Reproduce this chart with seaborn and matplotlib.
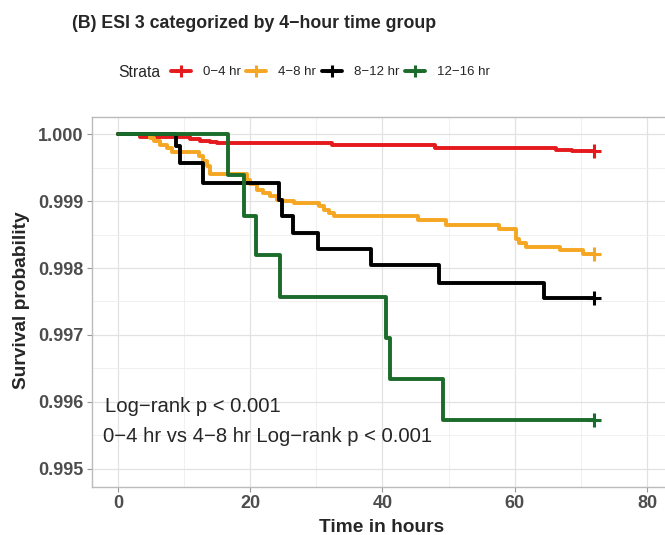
# Curvas de supervivencia Kaplan-Meier, ESI 3 por grupo de 4 horas

import numpy as np
import pandas as pd
import matplotlib.pyplot as plt
import seaborn as sns
from matplotlib.lines import Line2D
from matplotlib.ticker import MultipleLocator, FormatStrFormatter

strata = ['0−4 hr', '4−8 hr', '8−12 hr', '12−16 hr']
colors = ['#E41A1C', '#F5A623', '#000000', '#1B6B2B']

time_0_4 = [0, 3.3, 10.9, 12.4, 13.9, 15.0, 32.4, 47.9, 66.3, 68.7, 72]
surv_0_4 = [1.0, 0.99996, 0.99993, 0.99990, 0.99988, 0.99986, 0.99984,
            0.99979, 0.99976, 0.99974, 0.99974]

time_4_8 = [0, 4.8, 5.4, 6.4, 7.4, 8.1, 12.2, 12.9, 13.4, 13.9, 19.5, 20.0,
            21.0, 22.0, 23.0, 24.0, 25.0, 26.6, 30.4, 31.2, 31.9, 32.7, 45.3,
            49.6, 57.7, 60.2, 60.7, 61.7, 66.8, 70.3, 72]
surv_4_8 = [1.0, 0.99994, 0.99989, 0.99983, 0.99979, 0.99973, 0.99967,
            0.99959, 0.99952, 0.99940, 0.99932, 0.99925, 0.99917, 0.99912,
            0.99907, 0.99902, 0.99900, 0.99897, 0.99892, 0.99887, 0.99882,
            0.99877, 0.99871, 0.99864, 0.99858, 0.99844, 0.99837, 0.99832,
            0.99827, 0.99821, 0.99821]

time_8_12 = [0, 8.8, 9.4, 12.9, 24.4, 24.8, 26.4, 30.3, 38.3, 48.5, 64.4, 72]
surv_8_12 = [1.0, 0.99982, 0.99957, 0.99927, 0.99902, 0.99878, 0.99852,
             0.99828, 0.99804, 0.99778, 0.99755, 0.99755]

time_12_16 = [0, 16.7, 19.1, 20.8, 24.5, 40.5, 41.1, 49.1, 72]
surv_12_16 = [1.0, 0.99939, 0.99878, 0.99819, 0.99757, 0.99695, 0.99635,
              0.99573, 0.99573]

times = [time_0_4, time_4_8, time_8_12, time_12_16]
survs = [surv_0_4, surv_4_8, surv_8_12, surv_12_16]

df = pd.concat([pd.DataFrame({'time': t, 'surv': s, 'strata': g})
                for t, s, g in zip(times, survs, strata)], ignore_index=True)

sns.set_style('whitegrid')
plt.rcParams['font.family'] = ['Liberation Sans', 'DejaVu Sans']

W, H = 665, 535
fig = plt.figure(figsize=(W / 100, H / 100), dpi=100)
# el panel sigue más allá del borde derecho, como en la imagen original
ax = fig.add_axes([92 / W, 1 - 487 / H, (680 - 92) / W, (487 - 117) / H])

pal = dict(zip(strata, colors))
sns.lineplot(data=df, x='time', y='surv', hue='strata', hue_order=strata,
             palette=pal, drawstyle='steps-post', linewidth=2.8,
             estimator=None, legend=False, ax=ax)

# marcas de censura al final
for g in strata:
    sub = df[df['strata'] == g]
    ax.plot(sub['time'].iloc[-1], sub['surv'].iloc[-1], marker='+',
            markersize=10, mew=2.2, color=pal[g], linestyle='none')

ax.set_xlim(-3.93, 85.0)
ax.set_ylim(0.994731, 1.000254)
ax.set_xticks([0, 20, 40, 60, 80])
ax.set_yticks([0.995, 0.996, 0.997, 0.998, 0.999, 1.000])
ax.xaxis.set_minor_locator(MultipleLocator(10))
ax.yaxis.set_minor_locator(MultipleLocator(0.0005))
ax.yaxis.set_major_formatter(FormatStrFormatter('%.3f'))
ax.grid(which='major', color='#e2e2e2', linewidth=0.9)
ax.grid(which='minor', color='#eeeeee', linewidth=0.6)
ax.tick_params(which='major', length=3.6, width=0.8, color='#999999',
               labelcolor='#4d4d4d', labelsize=13, pad=2.5,
               left=True, bottom=True)
ax.tick_params(which='minor', length=0)
for lbl in ax.get_xticklabels() + ax.get_yticklabels():
    lbl.set_fontweight('bold')
for side in ['top', 'left', 'bottom']:
    ax.spines[side].set_color('#bbbbbb')
    ax.spines[side].set_linewidth(1.0)
ax.spines['right'].set_visible(False)
ax.set_xlabel('')
ax.set_ylabel('')

ax.text(-2.0, 0.99594, 'Log−rank p < 0.001', fontsize=14.6,
        ha='left', va='center')
ax.text(-2.3, 0.99548, '0−4 hr vs 4−8 hr Log−rank p < 0.001', fontsize=14.6,
        ha='left', va='center')

fig.text(382 / W, 1 - 527 / H, 'Time in hours', fontsize=13.8,
         fontweight='bold', ha='center', va='center')
fig.text(21.7 / W, 1 - 300 / H, 'Survival probability', fontsize=13.8,
         fontweight='bold', ha='center', va='center', rotation=90)

fig.text(72 / W, 1 - 24 / H, '(B) ESI 3 categorized by 4−hour time group',
         fontsize=12.8, fontweight='bold', ha='left', va='center')

fig.text(118 / W, 1 - 72 / H, 'Strata', fontsize=11.3, ha='left', va='center')
handles = [Line2D([], [], color=c, linewidth=2.8, marker='+', markersize=8,
                  mew=2.2) for c in colors]
fig.legend(handles, strata, loc='center left',
           bbox_to_anchor=(171 / W, 1 - 72 / H), ncol=4, frameon=False,
           fontsize=9.5, handlelength=1.5, handletextpad=0.9,
           columnspacing=0.45, borderpad=0, borderaxespad=0)

fig.savefig('out.png', dpi=100)
